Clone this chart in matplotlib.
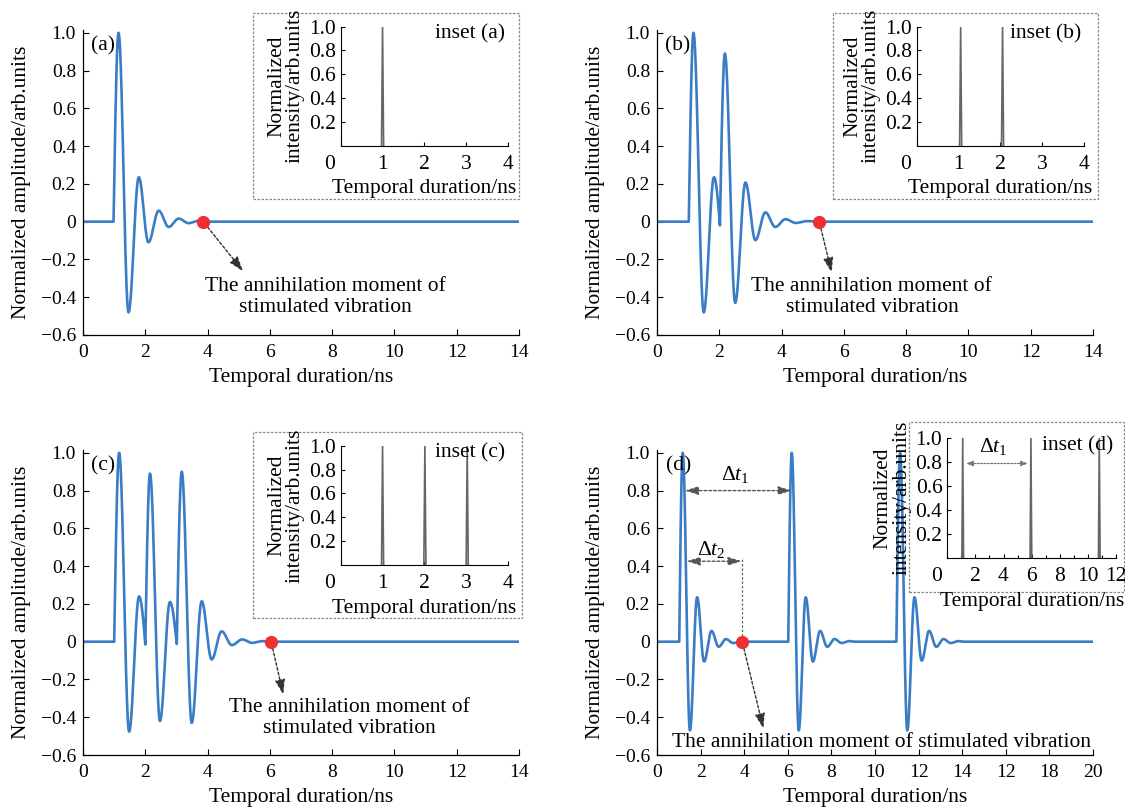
import numpy as np
import matplotlib
matplotlib.use("Agg")
import matplotlib.pyplot as plt
from matplotlib.patches import Rectangle

plt.rcParams["font.family"] = ["Liberation Serif", "DejaVu Serif"]
plt.rcParams["mathtext.fontset"] = "custom"
plt.rcParams["mathtext.rm"] = "Liberation Serif"
plt.rcParams["mathtext.it"] = "Liberation Serif:italic"

# waveform extrema (time in ns, normalized amplitude)
wave_a_t = [0.0, 0.98, 1.14, 1.46, 1.79, 2.10, 2.43, 2.75, 3.07, 3.39, 3.70, 3.86, 14.0]
wave_a_y = [0.0, 0.0, 1.0, -0.48, 0.235, -0.109, 0.058, -0.028, 0.016, -0.008, 0.004, 0.0, 0.0]
onsets_a = [0.98]

wave_b_t = [0.0, 1.02, 1.17, 1.50, 1.83, 2.02, 2.18, 2.51, 2.84, 3.16, 3.48, 3.80, 4.12,
            4.46, 4.80, 5.21, 14.0]
wave_b_y = [0.0, 0.0, 1.0, -0.48, 0.235, -0.02, 0.89, -0.43, 0.207, -0.098, 0.049, -0.028,
            0.013, -0.007, 0.003, 0.0, 0.0]
onsets_b = [1.02, 2.02]

wave_c_t = [0.0, 1.0, 1.16, 1.48, 1.80, 2.0, 2.15, 2.47, 2.79, 3.01, 3.17, 3.49, 3.81, 4.13,
            4.45, 4.78, 5.11, 5.43, 5.75, 6.04, 14.0]
wave_c_y = [0.0, 0.0, 1.0, -0.476, 0.24, -0.015, 0.89, -0.42, 0.21, -0.012, 0.90, -0.43,
            0.214, -0.094, 0.055, -0.018, 0.012, -0.006, 0.003, 0.0, 0.0]
onsets_c = [1.0, 2.0, 3.01]

wave_d_t = [0.0, 1.02, 1.18, 1.51, 1.84, 2.16, 2.50, 2.83, 3.16, 3.49, 3.91,
            6.02, 6.18, 6.50, 6.82, 7.15, 7.48, 7.81, 8.14, 8.47, 8.80, 9.10,
            10.98, 11.15, 11.48, 11.81, 12.14, 12.48, 12.81, 13.14, 13.47, 13.80, 14.10, 20.0]
wave_d_y = [0.0, 0.0, 1.0, -0.47, 0.235, -0.105, 0.057, -0.027, 0.014, -0.007, 0.0,
            0.0, 1.0, -0.47, 0.235, -0.105, 0.057, -0.027, 0.014, -0.007, 0.003, 0.0,
            0.0, 1.0, -0.47, 0.235, -0.10, 0.057, -0.027, 0.014, -0.007, 0.003, 0.0, 0.0]
onsets_d = [1.02, 6.02, 10.98]

# annihilation moments (red dots)
dot_a, dot_b, dot_c, dot_d = 3.86, 5.21, 6.04, 3.91

# inset pulse positions (ns) and heights
inset_a_peaks = [1.0]
inset_b_peaks = [1.05, 2.05]
inset_c_peaks = [1.0, 2.01, 3.02]
inset_d_peaks = [1.1, 5.95, 10.81]
inset_heights = 1.0

ytick_vals = [-0.6, -0.4, -0.2, 0, 0.2, 0.4, 0.6, 0.8, 1.0]
ytick_labels = ["\u22120.6", "\u22120.4", "\u22120.2", "0", "0.2", "0.4", "0.6", "0.8", "1.0"]
xtick_14 = [0, 2, 4, 6, 8, 10, 12, 14]
xtick_20 = [0, 2, 4, 6, 8, 10, 12, 14, 16, 18, 20]
xtick_20_labels = ["0", "2", "4", "6", "8", "10", "12", "14", "12", "18", "20"]

BLUE = "#3a7cc6"
RED = "#ee3030"
GRAY = "#666666"


def smooth_wave(ts, ys, onsets, n=40):
    # connect read extrema with cosine-shaped segments
    out_t, out_y = [], []
    s = np.linspace(0, 1, n)
    for i in range(len(ts) - 1):
        t0, t1, y0, y1 = ts[i], ts[i + 1], ys[i], ys[i + 1]
        if t0 in onsets:
            w = np.sin(np.pi / 2 * s)
        elif t1 in onsets:
            w = 1 - np.cos(np.pi / 2 * s)
        else:
            w = (1 - np.cos(np.pi * s)) / 2
        out_t.extend(t0 + (t1 - t0) * s)
        out_y.extend(y0 + (y1 - y0) * w)
    return np.array(out_t), np.array(out_y)


fig = plt.figure(figsize=(11.25, 8.07), dpi=100)

main_pos = {
    "a": [0.0738, 0.5849, 0.3876, 0.378],
    "b": [0.5840, 0.5849, 0.3876, 0.378],
    "c": [0.0738, 0.0644, 0.3876, 0.378],
    "d": [0.5840, 0.0644, 0.3876, 0.378],
}
frame_pos = {
    "a": [0.2249, 0.7534, 0.2364, 0.2305],
    "b": [0.7404, 0.7534, 0.2356, 0.2305],
    "c": [0.2249, 0.2342, 0.2390, 0.2309],
    "d": [0.8080, 0.2664, 0.1911, 0.2107],
}
inset_pos = {
    "a": [0.3028, 0.8195, 0.1490, 0.1475],
    "b": [0.8148, 0.8195, 0.1490, 0.1475],
    "c": [0.3028, 0.2999, 0.1490, 0.1478],
    "d": [0.8420, 0.3082, 0.1500, 0.1487],
}

waves = {
    "a": (wave_a_t, wave_a_y, onsets_a, dot_a),
    "b": (wave_b_t, wave_b_y, onsets_b, dot_b),
    "c": (wave_c_t, wave_c_y, onsets_c, dot_c),
    "d": (wave_d_t, wave_d_y, onsets_d, dot_d),
}
insets = {"a": inset_a_peaks, "b": inset_b_peaks, "c": inset_c_peaks, "d": inset_d_peaks}

# annotation text position and arrow tip (data coords)
note = {
    "a": ((7.77, -0.397), (5.14, -0.263)),
    "b": ((6.90, -0.397), (5.61, -0.27)),
    "c": ((8.54, -0.404), (6.43, -0.28)),
    "d": ((10.3, -0.535), (4.88, -0.46)),
}

for key in "abcd":
    ax = fig.add_axes(main_pos[key])
    ts, ys, ons, dot = waves[key]
    t, y = smooth_wave(ts, ys, ons)
    ax.plot(t, y, color=BLUE, lw=1.9, solid_joinstyle="round")
    ax.plot([dot], [0], "o", color=RED, ms=8.5, zorder=5)

    xmax = 20 if key == "d" else 14
    ax.set_xlim(0, xmax)
    ax.set_ylim(-0.6, 1.015)
    ax.set_yticks(ytick_vals)
    ax.set_yticklabels(ytick_labels)
    if key == "d":
        ax.set_xticks(xtick_20)
        ax.set_xticklabels(xtick_20_labels)
    else:
        ax.set_xticks(xtick_14)
    ax.tick_params(direction="in", length=4, labelsize=14, width=0.8)
    ax.tick_params(axis="x", pad=6.5)
    ax.tick_params(axis="y", pad=5)
    for sp in ["top", "right"]:
        ax.spines[sp].set_visible(False)
    for sp in ["left", "bottom"]:
        ax.spines[sp].set_linewidth(0.9)
    ax.set_xlabel("Temporal duration/ns", fontsize=15.5, labelpad=5)
    ax.set_ylabel("Normalized amplitude/arb.units", fontsize=15.5, labelpad=7)

    lx = 0.4 if key == "d" else 0.25
    ax.text(lx, 0.93, f"({key})", fontsize=15.5, ha="left", va="center")

    (tx, ty), (hx, hy) = note[key]
    if key == "d":
        txt = "The annihilation moment of stimulated vibration"
    else:
        txt = "The annihilation moment of\nstimulated vibration"
    ax.text(tx, ty, txt, fontsize=15.5, ha="center", va="center", linespacing=1.15)
    ax.annotate("", xy=(hx, hy), xytext=(dot, 0),
                arrowprops=dict(arrowstyle="-|>,head_length=0.9,head_width=0.3",
                                color="#333333", lw=1.0, ls=(0, (2, 1.5)),
                                shrinkA=5, shrinkB=0))

    if key == "d":
        ax.annotate("", xy=(1.28, 0.80), xytext=(6.18, 0.80),
                    arrowprops=dict(arrowstyle="<|-|>,head_length=0.8,head_width=0.25",
                                    color="#555555", lw=1.0, ls=(0, (2, 1.5)),
                                    shrinkA=0, shrinkB=0))
        ax.text(3.6, 0.885, r"$\Delta t_1$", fontsize=15.5, ha="center", va="center")
        ax.annotate("", xy=(1.36, 0.426), xytext=(3.88, 0.426),
                    arrowprops=dict(arrowstyle="<|-|>,head_length=0.8,head_width=0.25",
                                    color="#555555", lw=1.0, ls=(0, (2, 1.5)),
                                    shrinkA=0, shrinkB=0))
        ax.text(2.5, 0.49, r"$\Delta t_2$", fontsize=15.5, ha="center", va="center")
        ax.plot([dot, dot], [0.03, 0.45], color="#666666", lw=0.9, ls=(0, (2, 1.5)))

    # dashed frame around inset
    fx, fy, fw, fh = frame_pos[key]
    fig.add_artist(Rectangle((fx, fy), fw, fh, transform=fig.transFigure,
                             facecolor="white", edgecolor="#888888", lw=0.9,
                             ls=(0, (2, 1.2)), zorder=2))

    ins = fig.add_axes(inset_pos[key], zorder=3)
    ins.patch.set_alpha(0)
    pk = insets[key]
    hw = 0.06 if key == "d" else 0.025
    for p in pk:
        ins.plot([p - hw, p, p + hw], [0, inset_heights, 0], color=GRAY, lw=1.2)
    ins.set_ylim(0, 1.0)
    ins.set_yticks([0.2, 0.4, 0.6, 0.8, 1.0])
    if key == "d":
        ins.set_xlim(0, 12)
        ins.set_xticks([0, 2, 4, 6, 8, 10, 12])
        ins.set_xticks([1, 3, 5, 7, 9, 11], minor=True)
        ins.set_xticklabels(["", "2", "4", "6", "8", "10", "12"])
        ins.annotate("", xy=(1.33, 0.79), xytext=(5.74, 0.79),
                     arrowprops=dict(arrowstyle="<|-|>,head_length=0.4,head_width=0.15",
                                     color="#777777", lw=0.9, ls=(0, (1.5, 1.2)),
                                     shrinkA=0, shrinkB=0))
        ins.text(3.25, 0.93, r"$\Delta t_1$", fontsize=15.5, ha="center", va="center")
    else:
        ins.set_xlim(0, 4)
        ins.set_xticks([0, 1, 2, 3, 4])
        ins.set_xticklabels(["", "1", "2", "3", "4"])
    ins.annotate("0", xy=(0, 0), xycoords="axes fraction", xytext=(-8, -6.5),
                 textcoords="offset points", ha="center", va="top", fontsize=15.5)
    ins.tick_params(direction="in", length=3, labelsize=15.5, width=0.8)
    ins.tick_params(axis="x", pad=6.5)
    ins.tick_params(which="minor", direction="in", length=2, width=0.8)
    for sp in ["top", "right"]:
        ins.spines[sp].set_visible(False)
    ins.set_xlabel("Temporal duration/ns", fontsize=15.5, labelpad=4)
    ins.set_ylabel("Normalized\nintensity/arb.units", fontsize=15.5, labelpad=3,
                   linespacing=0.95)
    ins.text(0.77, 0.94, f"inset ({key})", transform=ins.transAxes, fontsize=15.5,
             ha="center", va="center")

plt.savefig("out.png", dpi=100)
